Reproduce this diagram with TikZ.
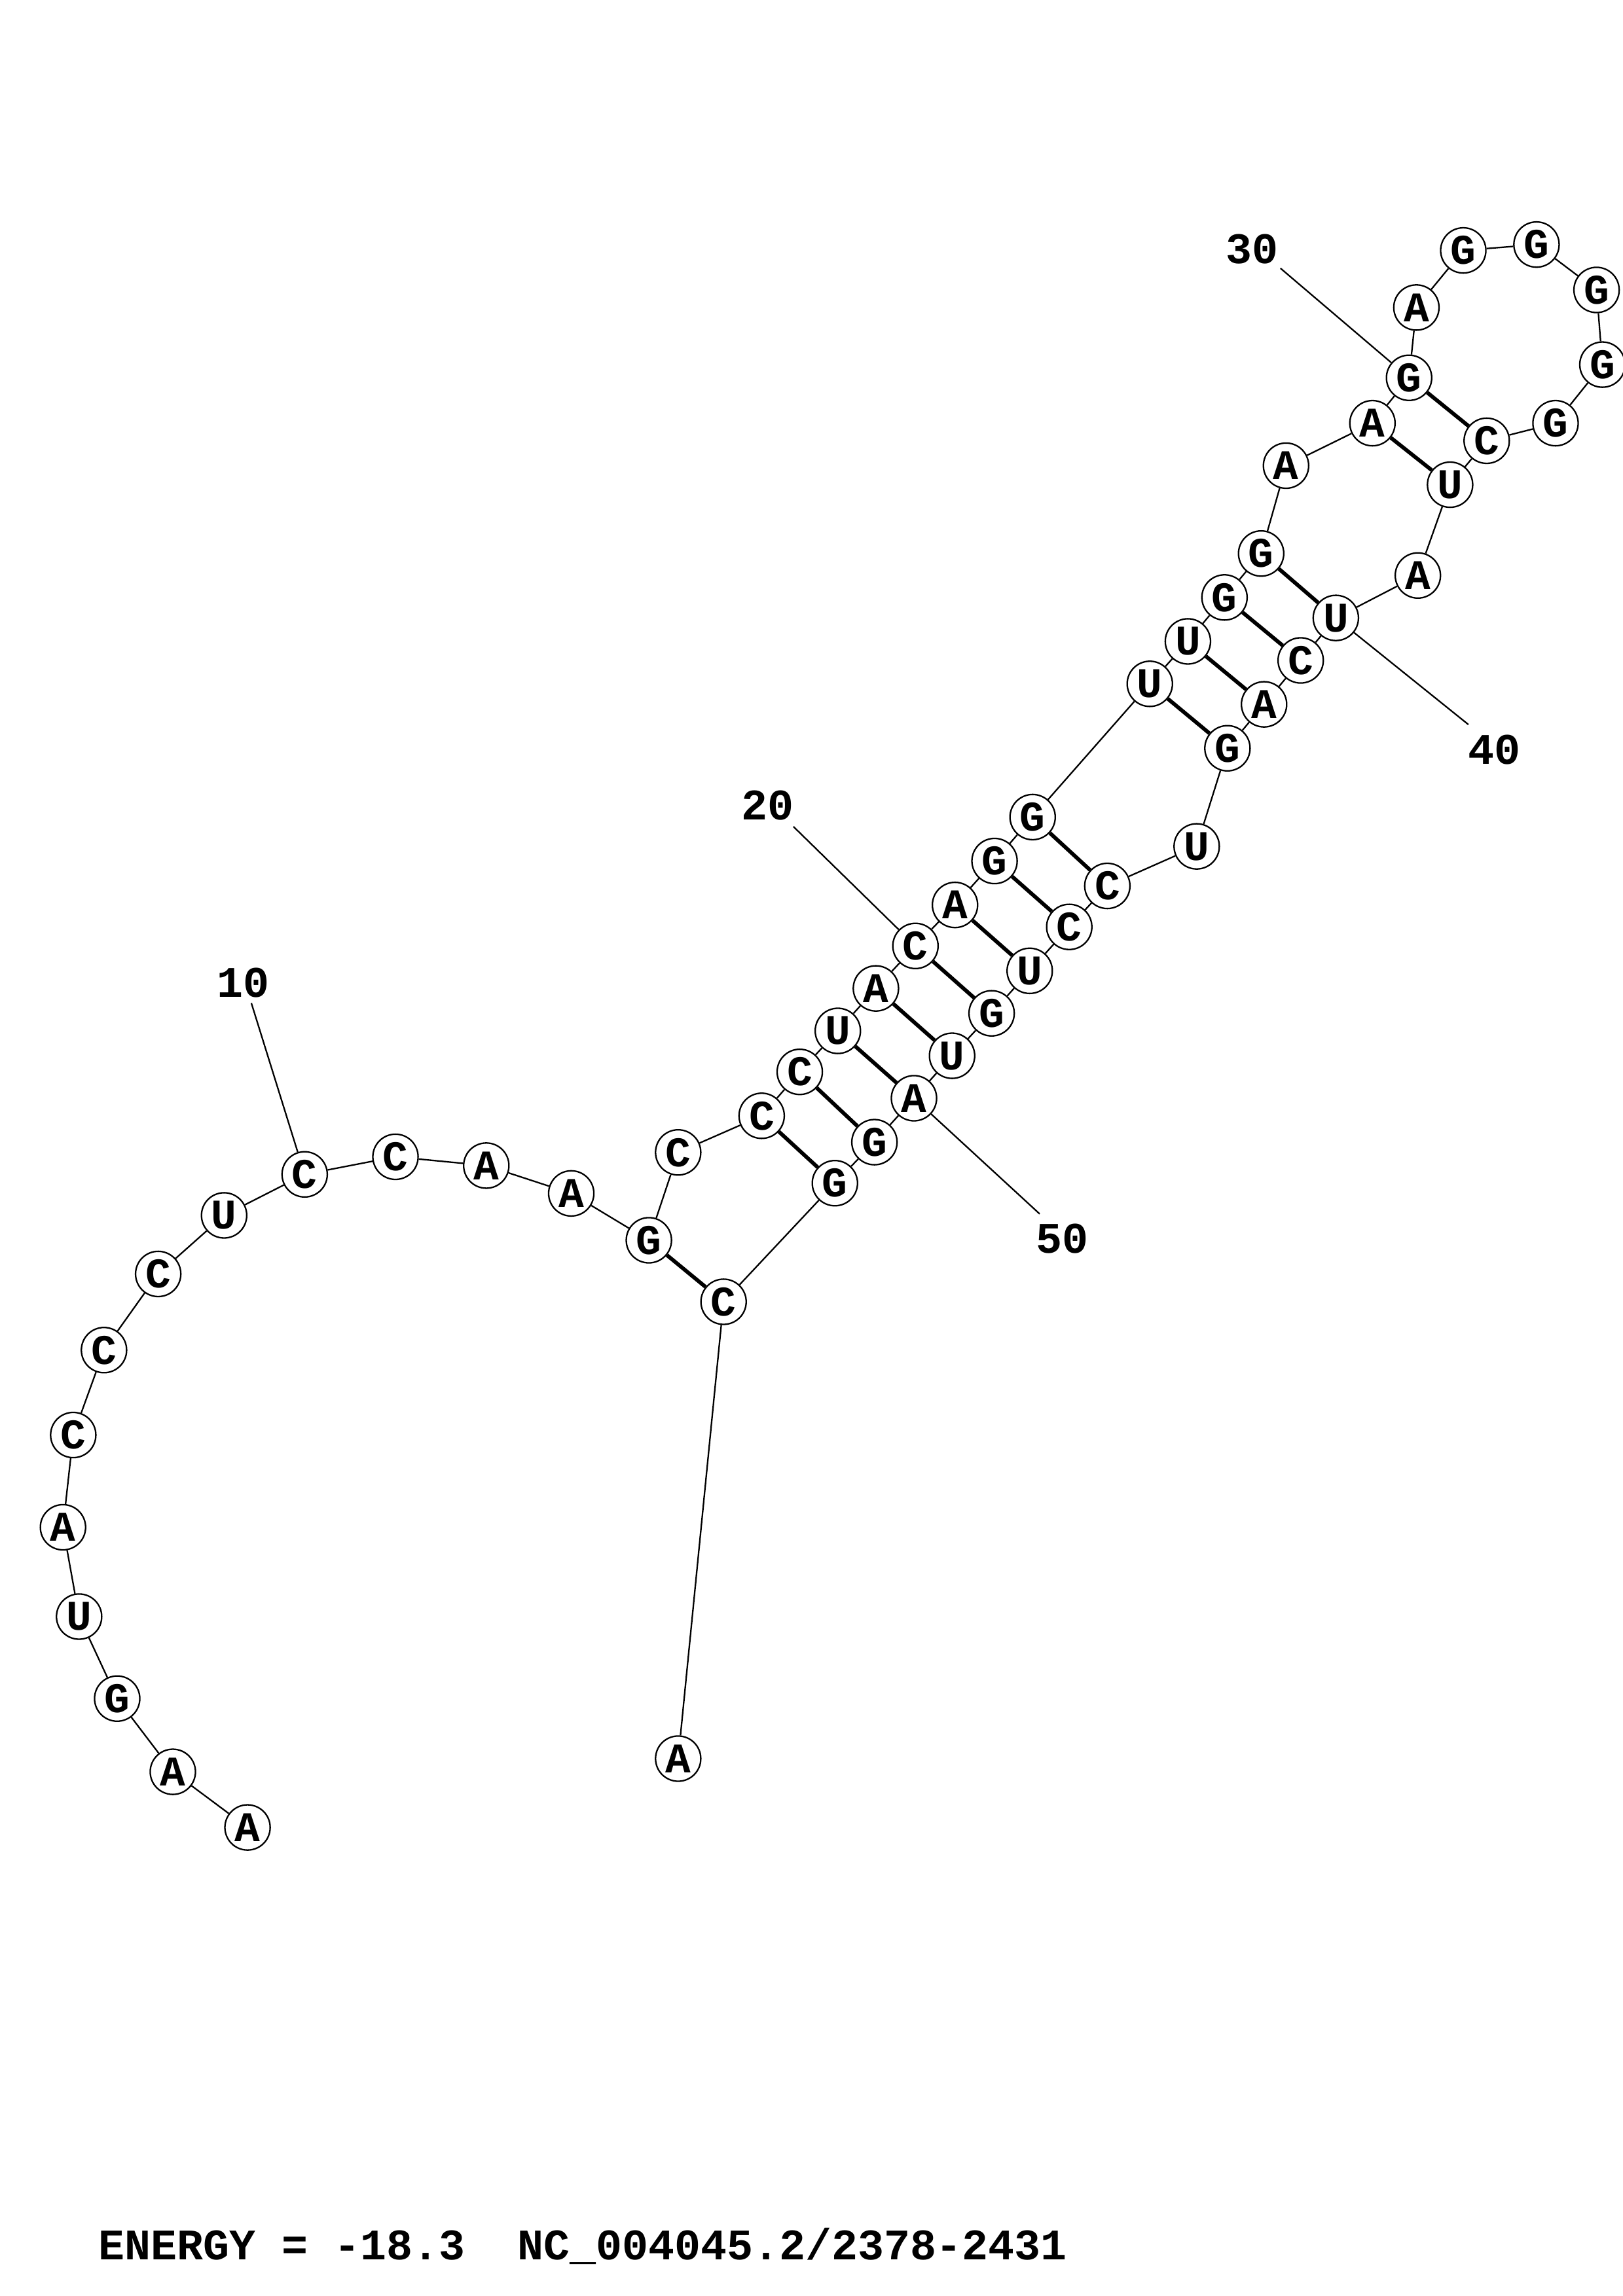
\documentclass[tikz,border=0pt]{standalone}
\usepackage{fontspec}
\setmonofont{Liberation Mono}
\usepackage{tikz}

\begin{document}
\begin{tikzpicture}[x=0.53725pt,y=-0.53725pt]
\tikzstyle{every node}+=[inner sep=0pt]
\tikzstyle{nt}=[draw,circle,line width=0.55pt,minimum size=16.6pt,font=\ttfamily\bfseries\fontsize{15.5}{15.5}\selectfont]
\tikzstyle{bb}=[line width=0.55pt]
\tikzstyle{bp}=[line width=1.4pt]
\tikzstyle{numlbl}=[font=\ttfamily\bfseries\fontsize{16}{16}\selectfont]
\useasboundingbox (0,0) rectangle (1108,1568);
% 5' tail
\node [nt] (n1) at (169,1248) {A};
\node [nt] (n2) at (118,1210) {A};
\node [nt] (n3) at (80,1160) {G};
\node [nt] (n4) at (54,1104) {U};
\node [nt] (n5) at (43,1043) {A};
\node [nt] (n6) at (50,980) {C};
\node [nt] (n7) at (71,922) {C};
\node [nt] (n8) at (108,870) {C};
\node [nt] (n9) at (153,830) {U};
\node [nt] (n10) at (208,802) {C};
\node [nt] (n11) at (270,790) {C};
\node [nt] (n12) at (332,796) {A};
\node [nt] (n13) at (390,815) {A};
% lower stem, 5' side
\node [nt] (n14) at (443,847) {G};
\node [nt] (n15) at (463,787) {C};
\node [nt] (n16) at (520,762) {C};
\node [nt] (n17) at (546,732) {C};
\node [nt] (n18) at (572,704) {U};
\node [nt] (n19) at (598,675) {A};
\node [nt] (n20) at (625,646) {C};
\node [nt] (n21) at (652,618) {A};
\node [nt] (n22) at (679,588) {G};
\node [nt] (n23) at (705,558) {G};
% upper stem, 5' side
\node [nt] (n24) at (785,467) {U};
\node [nt] (n25) at (811,438) {U};
\node [nt] (n26) at (836,408) {G};
\node [nt] (n27) at (861,378) {G};
\node [nt] (n28) at (878,318) {A};
\node [nt] (n29) at (937,289) {A};
\node [nt] (n30) at (962,258) {G};
% hairpin loop
\node [nt] (n31) at (967,210) {A};
\node [nt] (n32) at (999,171) {G};
\node [nt] (n33) at (1049,167) {G};
\node [nt] (n34) at (1090,198) {G};
\node [nt] (n35) at (1094,249) {G};
\node [nt] (n36) at (1062,289) {G};
% upper stem, 3' side
\node [nt] (n37) at (1015,301) {C};
\node [nt] (n38) at (990,331) {U};
\node [nt] (n39) at (968,393) {A};
\node [nt] (n40) at (912,422) {U};
\node [nt] (n41) at (888,451) {C};
\node [nt] (n42) at (863,481) {A};
\node [nt] (n43) at (838,511) {G};
% lower stem, 3' side
\node [nt] (n44) at (817,578) {U};
\node [nt] (n45) at (756,605) {C};
\node [nt] (n46) at (730,633) {C};
\node [nt] (n47) at (703,663) {U};
\node [nt] (n48) at (677,692) {G};
\node [nt] (n49) at (650,721) {U};
\node [nt] (n50) at (624,750) {A};
\node [nt] (n51) at (597,780) {G};
\node [nt] (n52) at (570,808) {G};
\node [nt] (n53) at (494,889) {C};
\node [nt] (n54) at (463,1201) {A};
% backbone
\draw [bb] (n1) -- (n2) -- (n3) -- (n4) -- (n5) -- (n6) -- (n7) -- (n8) -- (n9)
  -- (n10) -- (n11) -- (n12) -- (n13) -- (n14) -- (n15) -- (n16) -- (n17) -- (n18)
  -- (n19) -- (n20) -- (n21) -- (n22) -- (n23) -- (n24) -- (n25) -- (n26) -- (n27)
  -- (n28) -- (n29) -- (n30) -- (n31) -- (n32) -- (n33) -- (n34) -- (n35) -- (n36)
  -- (n37) -- (n38) -- (n39) -- (n40) -- (n41) -- (n42) -- (n43) -- (n44) -- (n45)
  -- (n46) -- (n47) -- (n48) -- (n49) -- (n50) -- (n51) -- (n52) -- (n53) -- (n54);
% pairs
\draw [bp] (n14) -- (n53);
\draw [bp] (n16) -- (n52);
\draw [bp] (n17) -- (n51);
\draw [bp] (n18) -- (n50);
\draw [bp] (n19) -- (n49);
\draw [bp] (n20) -- (n48);
\draw [bp] (n21) -- (n47);
\draw [bp] (n22) -- (n46);
\draw [bp] (n23) -- (n45);
\draw [bp] (n24) -- (n43);
\draw [bp] (n25) -- (n42);
\draw [bp] (n26) -- (n41);
\draw [bp] (n27) -- (n40);
\draw [bp] (n29) -- (n38);
\draw [bp] (n30) -- (n37);
% numbering
\node [numlbl] (t10) at (166,671) {10};
\node [numlbl] (t20) at (524,550) {20};
\node [numlbl] (t30) at (855,170) {30};
\node [numlbl] (t40) at (1020,512) {40};
\node [numlbl] (t50) at (725,846) {50};
\coordinate (l10) at (171.6,685);
\coordinate (l20) at (541.7,564.5);
\coordinate (l30) at (874.2,183.2);
\coordinate (l40) at (1002.5,494.8);
\coordinate (l50) at (709.8,829);
\draw [bb] (l10) -- (n10);
\draw [bb] (l20) -- (n20);
\draw [bb] (l30) -- (n30);
\draw [bb] (l40) -- (n40);
\draw [bb] (l50) -- (n50);
\node [numlbl,anchor=base west] (energy) at (67,1543) {ENERGY~=~-18.3~~NC\_004045.2/2378-2431};
\end{tikzpicture}
\end{document}
